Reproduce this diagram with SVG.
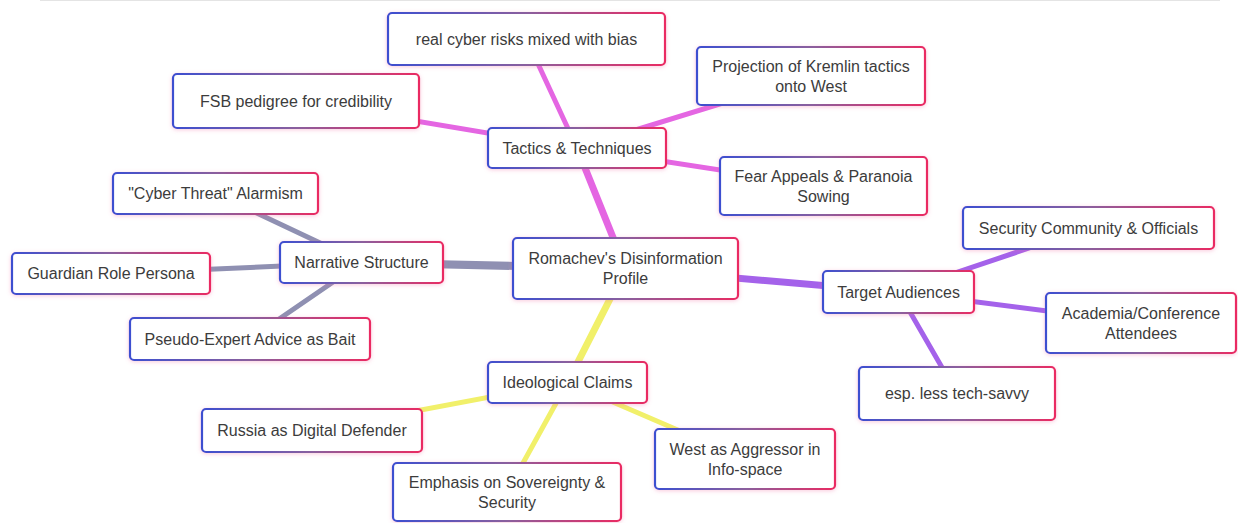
<svg xmlns="http://www.w3.org/2000/svg" width="1238" height="523" viewBox="0 0 1238 523">
<defs>
<linearGradient id="bord" x1="0" y1="0" x2="1" y2="0">
<stop offset="0" stop-color="#3d4fd0"/>
<stop offset="0.5" stop-color="#8a5f9e"/>
<stop offset="1" stop-color="#ea2a62"/>
</linearGradient>
<filter id="glow" x="-10%" y="-20%" width="120%" height="140%">
<feDropShadow dx="0" dy="1" stdDeviation="2" flood-color="#f06aa0" flood-opacity="0.35"/>
</filter>
</defs>
<style>
.box{fill:#ffffff;stroke:url(#bord);stroke-width:2.2;filter:url(#glow)}
.t{font-family:"Liberation Sans",Arial,sans-serif;font-size:16px;fill:#3c3c3c;text-anchor:middle;dominant-baseline:central}
.e{fill:none;stroke-linecap:round}
.tac{stroke:#e466e2}
.nar{stroke:#8f90b2}
.tgt{stroke:#a462ea}
.ide{stroke:#f1f06a}
.l1{stroke-width:7}
.l2{stroke-width:5}
</style>
<rect x="0" y="0" width="1238" height="523" fill="#ffffff"/>
<line x1="40" y1="0.5" x2="1220" y2="0.5" stroke="#e4e4e4" stroke-width="1"/>
<g id="connectors">
<line class="e tac l1" x1="625.5" y1="268.5" x2="577" y2="148"/>
<line class="e tac l2" x1="577" y1="148" x2="526.5" y2="39"/>
<line class="e tac l2" x1="577" y1="148" x2="296" y2="101"/>
<line class="e tac l2" x1="577" y1="148" x2="811" y2="76"/>
<line class="e tac l2" x1="577" y1="148" x2="823.5" y2="186"/>
<line class="e nar" stroke-width="8" x1="625.5" y1="268.5" x2="361.5" y2="262.5"/>
<line class="e nar l2" x1="361.5" y1="262.5" x2="215.5" y2="193.5"/>
<line class="e nar l2" x1="361.5" y1="262.5" x2="111" y2="273.5"/>
<line class="e nar l2" x1="361.5" y1="262.5" x2="250" y2="339"/>
<line class="e tgt l1" x1="625.5" y1="268.5" x2="898.5" y2="292"/>
<line class="e tgt l2" x1="898.5" y1="292" x2="1088.5" y2="228"/>
<line class="e tgt l2" x1="898.5" y1="292" x2="1141" y2="323"/>
<line class="e tgt l2" x1="898.5" y1="292" x2="957" y2="393.5"/>
<line class="e ide l1" x1="625.5" y1="268.5" x2="567.5" y2="382.5"/>
<line class="e ide l2" x1="567.5" y1="382.5" x2="312" y2="430.5"/>
<line class="e ide l2" x1="567.5" y1="382.5" x2="507" y2="492"/>
<line class="e ide l2" x1="567.5" y1="382.5" x2="745" y2="459"/>
</g>
<g id="n-central"><rect class="box" x="513" y="238" width="225" height="61" rx="4"/><text class="t" x="625.5" y="258.5">Romachev's Disinformation</text><text class="t" x="625.5" y="278.5">Profile</text></g>
<g id="n-tactics"><rect class="box" x="488" y="128" width="178" height="40" rx="4"/><text class="t" x="577" y="148">Tactics &amp; Techniques</text></g>
<g id="n-realcyber"><rect class="box" x="388" y="13" width="277" height="52" rx="4"/><text class="t" x="526.5" y="39">real cyber risks mixed with bias</text></g>
<g id="n-fsb"><rect class="box" x="173" y="74" width="246" height="54" rx="4"/><text class="t" x="296" y="101">FSB pedigree for credibility</text></g>
<g id="n-projection"><rect class="box" x="697" y="47" width="228" height="58" rx="4"/><text class="t" x="811" y="66">Projection of Kremlin tactics</text><text class="t" x="811" y="86">onto West</text></g>
<g id="n-fear"><rect class="box" x="720" y="157" width="207" height="58" rx="4"/><text class="t" x="823.5" y="176">Fear Appeals &amp; Paranoia</text><text class="t" x="823.5" y="196">Sowing</text></g>
<g id="n-cyberthreat"><rect class="box" x="113" y="173" width="205" height="41" rx="4"/><text class="t" x="215.5" y="193.5">"Cyber Threat" Alarmism</text></g>
<g id="n-narrative"><rect class="box" x="280" y="242" width="163" height="41" rx="4"/><text class="t" x="361.5" y="262.5">Narrative Structure</text></g>
<g id="n-guardian"><rect class="box" x="12" y="253" width="198" height="41" rx="4"/><text class="t" x="111" y="273.5">Guardian Role Persona</text></g>
<g id="n-pseudo"><rect class="box" x="130" y="318" width="240" height="42" rx="4"/><text class="t" x="250" y="339">Pseudo-Expert Advice as Bait</text></g>
<g id="n-target"><rect class="box" x="823" y="271" width="151" height="42" rx="4"/><text class="t" x="898.5" y="292">Target Audiences</text></g>
<g id="n-security"><rect class="box" x="963" y="207" width="251" height="42" rx="4"/><text class="t" x="1088.5" y="228">Security Community &amp; Officials</text></g>
<g id="n-academia"><rect class="box" x="1046" y="293" width="190" height="60" rx="4"/><text class="t" x="1141" y="313">Academia/Conference</text><text class="t" x="1141" y="333">Attendees</text></g>
<g id="n-esp"><rect class="box" x="859" y="367" width="196" height="53" rx="4"/><text class="t" x="957" y="393.5">esp. less tech-savvy</text></g>
<g id="n-ideological"><rect class="box" x="488" y="362" width="159" height="41" rx="4"/><text class="t" x="567.5" y="382.5">Ideological Claims</text></g>
<g id="n-russia"><rect class="box" x="202" y="409" width="220" height="43" rx="4"/><text class="t" x="312" y="430.5">Russia as Digital Defender</text></g>
<g id="n-emphasis"><rect class="box" x="393" y="463" width="228" height="58" rx="4"/><text class="t" x="507" y="482">Emphasis on Sovereignty &amp;</text><text class="t" x="507" y="502">Security</text></g>
<g id="n-west"><rect class="box" x="655" y="429" width="180" height="60" rx="4"/><text class="t" x="745" y="449">West as Aggressor in</text><text class="t" x="745" y="469">Info-space</text></g>
</svg>
